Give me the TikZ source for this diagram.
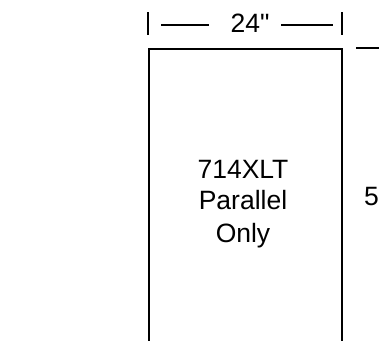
\documentclass[tikz,border=0pt]{standalone}
\usepackage{fontspec}
\setmainfont{Liberation Sans}
\newfontfamily\plainfont{Liberation Sans}[Ligatures=ResetAll]
\begin{document}
\begin{tikzpicture}[x=1pt,y=-1pt,
  ln/.style={line width=2.8pt},
  lbl/.style={inner sep=0pt,font=\fontsize{26.5}{30}\selectfont},
  box/.style={ln}]
\useasboundingbox (0,0) rectangle (379,340);
\clip (0,0) rectangle (379,340);
% box (open at bottom, cut by frame)
\coordinate (bl) at (149,345);
\coordinate (tl) at (149,49);
\coordinate (tr) at (342,49);
\coordinate (br) at (342,345);
\draw[box] (bl) -- (tl) -- (tr) -- (br);
% dimension 24"
\coordinate (lb1) at (148,12);
\coordinate (lb2) at (148,35);
\coordinate (rb1) at (342,12);
\coordinate (rb2) at (342,35);
\draw[ln] (lb1) -- (lb2);
\draw[ln] (rb1) -- (rb2);
\node[lbl,anchor=base] (w) at (250,32) {\plainfont 24"};
\coordinate (ld1) at (161,25);
\coordinate (ld2) at (209,25);
\coordinate (rd1) at (281,25);
\coordinate (rd2) at (333,25);
\draw[ln] (ld1) -- (ld2);
\draw[ln] (rd1) -- (rd2);
% right dimension
\coordinate (tr1) at (356,48);
\coordinate (tr2) at (385,48);
\draw[ln] (tr1) -- (tr2);
\node[lbl,anchor=base west] (h) at (364,205) {5};
% label
\node[lbl,anchor=base] (t1) at (243,178) {714XLT};
\node[lbl,anchor=base] (t2) at (243,209) {Parallel};
\node[lbl,anchor=base] (t3) at (243,242) {Only};
\end{tikzpicture}
\end{document}
